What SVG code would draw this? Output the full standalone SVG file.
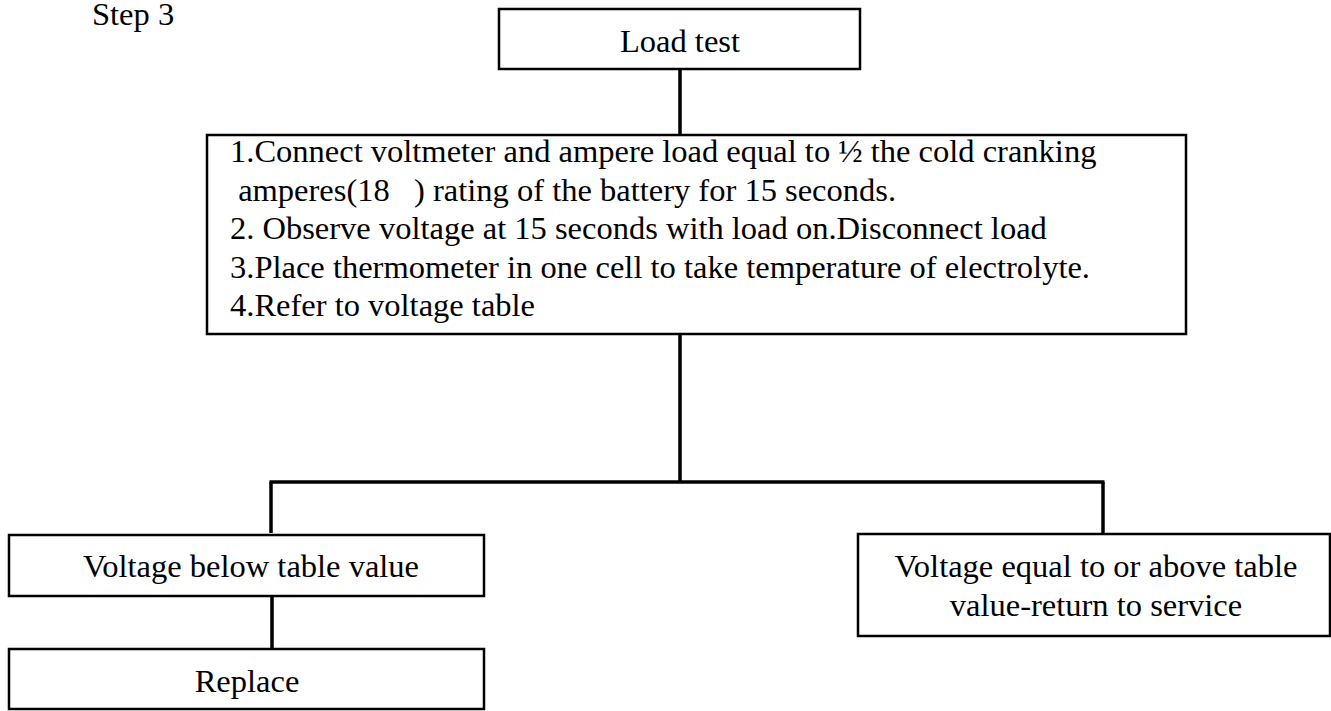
<svg xmlns="http://www.w3.org/2000/svg" width="1331" height="711" viewBox="0 0 1331 711">
<style>
  .box { fill: #ffffff; stroke: #000000; stroke-width: 2.5; }
  text { font-family: 'Liberation Serif', Tinos, 'Times New Roman', 'DejaVu Serif', serif; font-size: 32.5px; fill: #000000; }
  .c { text-anchor: middle; }
  .conn line { stroke: #000000; stroke-width: 3.5; stroke-linecap: butt; }
</style>
<rect width="1331" height="711" fill="#ffffff"/>
<g id="title">
  <text x="92" y="25" font-family="Liberation Serif, serif">Step 3</text>
</g>
<g id="connectors" class="conn">
  <line x1="680" y1="69" x2="680" y2="135"/>
  <line x1="680" y1="334" x2="680" y2="482"/>
  <line x1="269.5" y1="482" x2="1104.5" y2="482"/>
  <line x1="271" y1="482" x2="271" y2="533"/>
  <line x1="1103" y1="482" x2="1103" y2="533"/>
  <line x1="272" y1="597" x2="272" y2="649"/>
</g>
<g id="node-load-test">
  <rect class="box" x="499" y="9" width="361" height="60"/>
  <text class="c" x="680" y="52">Load test</text>
</g>
<g id="node-steps">
  <rect class="box" x="207" y="135" width="979" height="199"/>
  <text x="230" y="162" xml:space="preserve">1.Connect voltmeter and ampere load equal to ½ the cold cranking</text>
  <text x="230" y="200.5" xml:space="preserve"> amperes(18   ) rating of the battery for 15 seconds.</text>
  <text x="230" y="239" xml:space="preserve">2. Observe voltage at 15 seconds with load on.Disconnect load</text>
  <text x="230" y="277.5">3.Place thermometer in one cell to take temperature of electrolyte.</text>
  <text x="230" y="316">4.Refer to voltage table</text>
</g>
<g id="node-below">
  <rect class="box" x="9" y="535" width="475" height="61"/>
  <text class="c" x="251" y="577">Voltage below table value</text>
</g>
<g id="node-replace">
  <rect class="box" x="9" y="649" width="475" height="60"/>
  <text class="c" x="247" y="692">Replace</text>
</g>
<g id="node-above">
  <rect class="box" x="858" y="534" width="472" height="102"/>
  <text class="c" x="1096" y="577">Voltage equal to or above table</text>
  <text class="c" x="1096" y="616">value-return to service</text>
</g>
</svg>
